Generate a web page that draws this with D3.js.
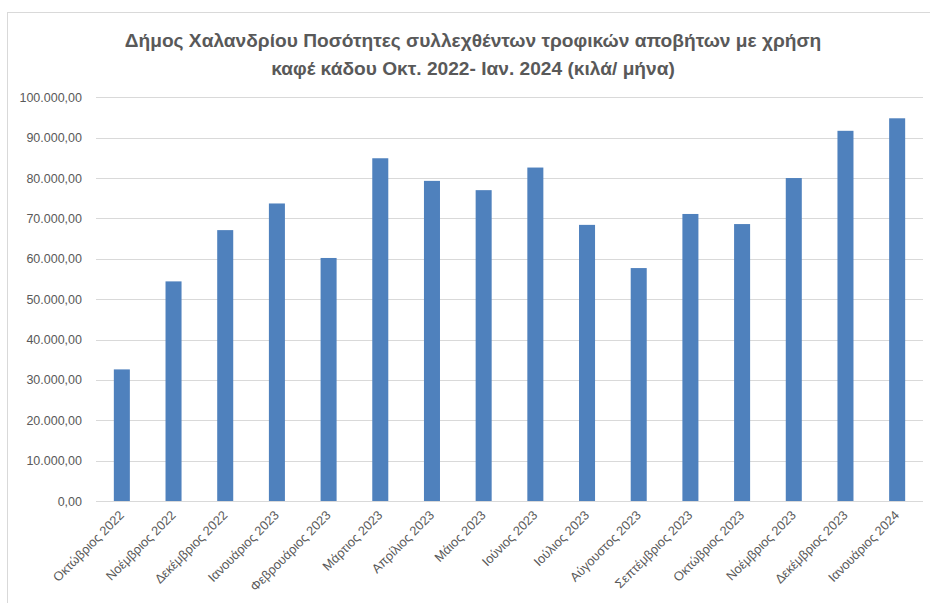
<!DOCTYPE html>
<html>
<head>
<meta charset="utf-8">
<script src="https://cdn.jsdelivr.net/npm/d3@7"></script>
<style>
  body { margin: 0; background: #fff; }
  svg { display: block; }
</style>
</head>
<body>
<svg id="chart" width="930" height="603"></svg>
<script>
const titleLines = [
  "Δήμος Χαλανδρίου Ποσότητες συλλεχθέντων τροφικών αποβήτων με χρήση",
  "καφέ κάδου Οκτ. 2022- Ιαν. 2024 (κιλά/ μήνα)"
];
const categories = [
  "Οκτώβριος 2022", "Νοέμβριος 2022", "Δεκέμβριος 2022", "Ιανουάριος 2023",
  "Φεβρουάριος 2023", "Μάρτιος 2023", "Απρίλιος 2023", "Μάιος 2023",
  "Ιούνιος 2023", "Ιούλιος 2023", "Αύγουστος 2023", "Σεπτέμβριος 2023",
  "Οκτώβριος 2023", "Νοέμβριος 2023", "Δεκέμβριος 2023", "Ιανουάριος 2024"
];
const values = [
  32600, 54400, 67100, 73700, 60200, 84900, 79300, 77000,
  82600, 68400, 57700, 71100, 68600, 80000, 91700, 94800
];
const yTicks = [0, 10000, 20000, 30000, 40000, 50000, 60000, 70000, 80000, 90000, 100000];

const svg = d3.select("#chart");
const W = 930, H = 603;
const x0 = 96, x1 = 923, yTop = 97.3, yBot = 501;
const font = "'Liberation Sans', Arial, sans-serif";
const gray = "#595959";

// chart border
svg.append("rect")
  .attr("x", 7.5).attr("y", 12.5)
  .attr("width", W + 20).attr("height", H + 20)
  .attr("fill", "#fff").attr("stroke", "#d9d9d9").attr("stroke-width", 1);

const x = d3.scaleBand().domain(categories).range([x0, x1]).paddingInner(0.69).paddingOuter(0.345);
const y = d3.scaleLinear().domain([0, 100000]).range([yBot, yTop]);

const fmt = v => {
  const s = d3.format(",.2f")(v);
  return s.replace(/,/g, "#").replace(/\./g, ",").replace(/#/g, ".");
};

// gridlines
svg.append("g")
  .selectAll("line").data(yTicks).join("line")
  .attr("x1", x0).attr("x2", x1)
  .attr("y1", d => Math.round(y(d)) + 0.5).attr("y2", d => Math.round(y(d)) + 0.5)
  .attr("stroke", "#d9d9d9").attr("stroke-width", 1);

// y axis labels
const yAxis = d3.axisLeft(y).tickValues(yTicks).tickFormat(fmt).tickSize(0).tickPadding(14);
const gy = svg.append("g").attr("transform", `translate(${x0},0)`).call(yAxis);
gy.select(".domain").remove();
gy.selectAll("text").attr("font-family", font).attr("font-size", 12.5).attr("fill", gray);

// bars
svg.append("g")
  .selectAll("rect").data(values).join("rect")
  .attr("x", (d, i) => x(categories[i]))
  .attr("y", d => y(d))
  .attr("width", x.bandwidth())
  .attr("height", d => yBot - y(d))
  .attr("fill", "#4f81bd");

// x axis labels
const xAxis = d3.axisBottom(x).tickSize(0).tickPadding(0);
const gx = svg.append("g").attr("transform", `translate(0,${yBot})`).call(xAxis);
gx.select(".domain").remove();
gx.selectAll("text")
  .attr("font-family", font).attr("font-size", 12.8).attr("fill", gray)
  .attr("text-anchor", "end")
  .attr("dy", null)
  .attr("transform", "translate(3,15) rotate(-45)");

// title
const title = svg.append("text")
  .attr("text-anchor", "middle")
  .attr("font-family", font).attr("font-weight", "bold").attr("fill", gray);
titleLines.forEach((t, i) => {
  title.append("tspan").attr("x", 473).attr("y", 47 + i * 28).text(t);
});
let fs = 18;
title.attr("font-size", fs);
const w = title.select("tspan").node().getComputedTextLength();
fs = fs * 697 / w;
title.attr("font-size", fs);
</script>
</body>
</html>
